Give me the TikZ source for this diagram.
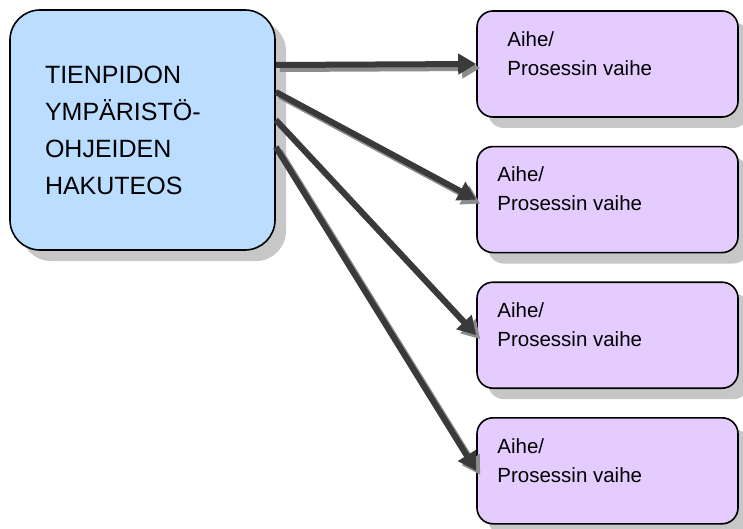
\documentclass[tikz,border=0pt]{standalone}
\usepackage{fontspec}
\setmainfont{Liberation Sans}
\usetikzlibrary{positioning,shadows,arrows.meta}

\definecolor{hakublue}{RGB}{187,221,255}
\definecolor{aiheviolet}{RGB}{229,204,255}
\definecolor{nuoli}{RGB}{58,58,58}

\tikzset{
  varjo/.style={drop shadow={shadow xshift=11pt,shadow yshift=-11pt,fill=black!22,opacity=1}},
  hakubox/.style={draw,line width=1.6pt,rounded corners=30pt,fill=hakublue,varjo,
    minimum width=265pt,minimum height=240pt},
  aihebox/.style={draw,line width=1.6pt,rounded corners=16pt,fill=aiheviolet,varjo,
    minimum width=261pt,minimum height=106pt},
  aiheteksti/.style={anchor=north west,align=left,inner sep=0pt,
    font=\fontsize{20.5}{29}\selectfont},
  nuolikarki/.style={-{Triangle[length=18pt,width=20pt]},line width=6pt}
}

\begin{document}
\begin{tikzpicture}[x=1pt,y=1pt]
\useasboundingbox (0,0) rectangle (743,528);

\node [hakubox,text width=195pt,align=left,font=\fontsize{25}{37}\selectfont] (hakuteos) at (142.5,398)
  {TIENPIDON\\YMPÄRISTÖ-\\OHJEIDEN\\HAKUTEOS};

\node [aihebox,label={[aiheteksti,xshift=31pt,yshift=-21pt]north west:{Aihe/\\Prosessin vaihe}}] (aihe1) at (607.5,464) {};
\node [aihebox,below=28pt of aihe1,label={[aiheteksti,xshift=21pt,yshift=-21pt]north west:{Aihe/\\Prosessin vaihe}}] (aihe2) {};
\node [aihebox,below=28pt of aihe2,label={[aiheteksti,xshift=21pt,yshift=-21pt]north west:{Aihe/\\Prosessin vaihe}}] (aihe3) {};
\node [aihebox,below=28pt of aihe3,label={[aiheteksti,xshift=21pt,yshift=-21pt]north west:{Aihe/\\Prosessin vaihe}}] (aihe4) {};

% nuolet varjoineen
\foreach \alku/\kohde in {65/aihe1,38/aihe2,10/aihe3,-17/aihe4} {
  \draw [nuolikarki,draw=black!45] ([xshift=4,yshift=\alku-4]hakuteos.east) -- ([xshift=4,yshift=-4]\kohde.west);
  \draw [nuolikarki,draw=nuoli] ([yshift=\alku]hakuteos.east) -- (\kohde.west);
}
\end{tikzpicture}
\end{document}
